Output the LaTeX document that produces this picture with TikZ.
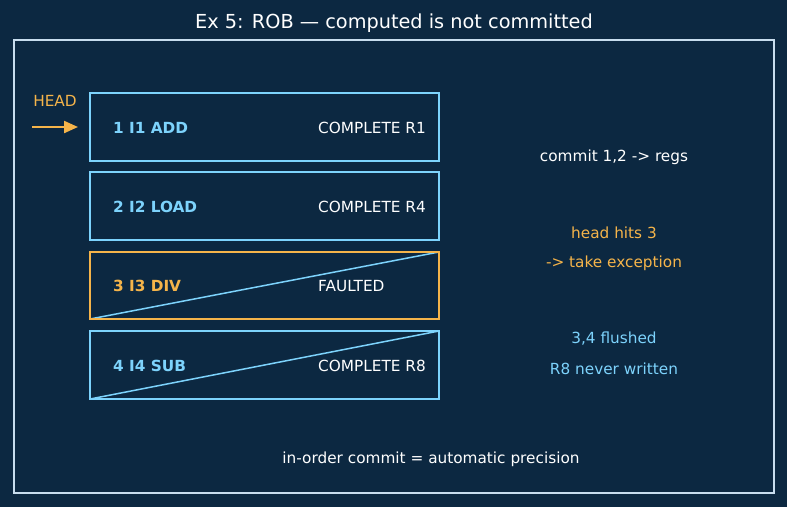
\documentclass[tikz,border=0pt]{standalone}
\usepackage{fontspec}
\setmainfont{DejaVu Sans}
\usetikzlibrary{arrows.meta}
\definecolor{bg}{HTML}{0C2841}
\definecolor{skyb}{HTML}{7DD3FC}
\definecolor{amber}{HTML}{F5B44A}
\definecolor{frame}{HTML}{C8DDEE}
\tikzset{
  robbox/.style={draw=skyb, line width=2pt},
  faultbox/.style={draw=amber, line width=2pt},
  lab/.style={anchor=west, font=\bfseries\fontsize{15.3}{17}\selectfont, inner sep=0pt, yshift=-1pt},
  stat/.style={anchor=west, text=white, font=\fontsize{15.3}{17}\selectfont, inner sep=0pt, yshift=-1pt},
  note/.style={font=\fontsize{15.3}{17}\selectfont, inner sep=0pt, yshift=-1pt},
  diag/.style={draw=skyb, line width=1.5pt},
}
\begin{document}
\begin{tikzpicture}[x=1pt,y=-1pt]
\fill[bg] (0,0) rectangle (787,507);
\useasboundingbox (0,0) rectangle (787,507);
\node[text=white, font=\fontsize{19.3}{22}\selectfont] (title) at (394,23.5) {Ex 5: ROB — computed is not committed};
\draw[frame, line width=1.5pt] (14,40) rectangle (774,493);
% HEAD
\node[text=amber, note] (head) at (55,100) {HEAD};
\coordinate (hs) at (32,127);
\coordinate (he) at (78,127);
\draw[amber, line width=2.2pt, -{Triangle[length=14pt,width=12pt]}] (hs) -- (he);
% boxes
\draw[robbox] (90,93) rectangle (439,161);
\node[lab, text=skyb] (l1) at (113,127) {1 I1 ADD};
\node[stat] (s1) at (318,127) {COMPLETE R1};
\draw[robbox] (90,172) rectangle (439,240);
\node[lab, text=skyb] (l2) at (113,206) {2 I2 LOAD};
\node[stat] (s2) at (318,206) {COMPLETE R4};
\coordinate (d3a) at (90,319);
\coordinate (d3b) at (439,252);
\draw[diag] (d3a) -- (d3b);
\draw[faultbox] (90,252) rectangle (439,319);
\node[lab, text=amber] (l3) at (113,285) {3 I3 DIV};
\node[stat] (s3) at (318,285) {FAULTED};
\draw[robbox] (90,331) rectangle (439,399);
\coordinate (d4a) at (90,399);
\coordinate (d4b) at (439,331);
\draw[diag] (d4a) -- (d4b);
\node[lab, text=skyb] (l4) at (113,365) {4 I4 SUB};
\node[stat] (s4) at (318,365) {COMPLETE R8};
% notes
\node[note, text=white] (n1) at (614,156) {commit 1,2 -> regs};
\node[note, text=amber] (n2) at (614,232) {head hits 3};
\node[note, text=amber] (n3) at (614,262) {-> take exception};
\node[note, text=skyb] (n4) at (614,338) {3,4 flushed};
\node[note, text=skyb] (n5) at (614,368) {R8 never written};
\node[note, text=white] (foot) at (431,458) {in-order commit = automatic precision};
\end{tikzpicture}
\end{document}
